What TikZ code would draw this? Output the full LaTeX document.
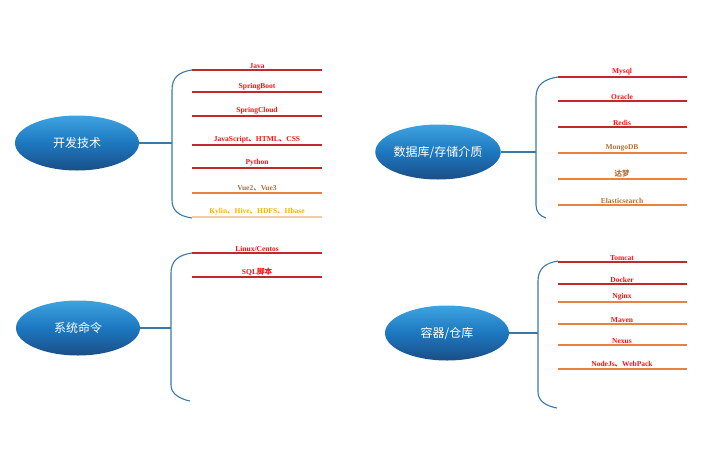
\documentclass[tikz,border=0pt]{standalone}
\usepackage{fontspec}
\setmainfont{Liberation Serif}
\newfontfamily\cjk{Noto Sans CJK SC}
\newcommand\dn{{\cjk 、}}
\usetikzlibrary{shapes.geometric}
\definecolor{lred}{HTML}{C0282C}
\definecolor{lorg}{HTML}{E8823E}
\definecolor{lpale}{HTML}{F5C9A5}
\definecolor{tred}{HTML}{FF1010}
\definecolor{tbrn}{HTML}{B0703A}
\definecolor{tyel}{HTML}{F0B800}
\definecolor{bblue}{HTML}{3A78A8}
\definecolor{etop}{HTML}{3FA3E0}
\definecolor{emid}{HTML}{1C78C0}
\definecolor{ebot}{HTML}{1B4E86}
\tikzset{
 topic/.style={ellipse,minimum width=124pt,minimum height=55pt,inner sep=0pt,
   top color=etop,bottom color=ebot,middle color=emid,
   text=white,font=\cjk\fontsize{12}{12}\selectfont},
 brace/.style={draw=bblue,line width=1.1pt},
 leaf/.style={line width=2pt},
 lbl/.style={font=\bfseries\fontsize{7.5}{8}\selectfont,anchor=south,inner sep=1.5pt}
}
\begin{document}
\begin{tikzpicture}[x=1pt,y=-1pt]
\useasboundingbox (0,0) rectangle (720,450);
\node[topic] (t1) at (77,143) {开发技术};
\node[topic] (t2) at (438,152) {数据库/存储介质};
\node[topic] (t3) at (78,328) {系统命令};
\node[topic] (t4) at (447,333) {容器/仓库};
% group 1
\coordinate (b1) at (172,143);
\draw[brace] (t1.east) -- (b1);
\draw[brace] (192,70) .. controls (178,72) and (172,78) .. (172,90) -- (172,200) .. controls (172,210) and (178,216) .. (192,218);
\foreach \y/\t/\c/\tc [count=\i] in {70/Java/lred/tred,92/SpringBoot/lred/tred,116/SpringCloud/lred/tred,145/{JavaScript\dn HTML\dn CSS}/lred/tred,168/Python/lred/tred,193/{Vue2\dn Vue3}/lorg/tbrn,217/{Kylin\dn Hive\dn HDFS\dn Hbase}/lpale/tyel}{
 \coordinate (a\i) at (192,\y); \coordinate (e\i) at (322,\y);
 \draw[leaf,draw=\c] (a\i) -- (e\i);
 \node[lbl,text=\tc] at (257,\y) {\t};
}
% group 2
\coordinate (b2) at (536,152);
\draw[brace] (t2.east) -- (b2);
\draw[brace] (558,77) .. controls (544,79) and (536,85) .. (536,97) -- (536,205) .. controls (536,212) and (540,216) .. (546,218);
\foreach \y/\t/\tc [count=\i] in {77/Mysql/tred,101/Oracle/tred,127/Redis/tred,153/MongoDB/tbrn,179/{\cjk 达梦}/tbrn,205/Elasticsearch/tbrn}{
 \coordinate (c\i) at (558,\y); \coordinate (d\i) at (687,\y);
 \ifnum\i<4 \draw[leaf,draw=lred] (c\i) -- (d\i); \else \draw[leaf,draw=lorg] (c\i) -- (d\i); \fi
 \node[lbl,text=\tc] at (622,\y) {\t};
}
% group 3
\coordinate (b3) at (171,328);
\draw[brace] (t3.east) -- (b3);
\draw[brace] (192,253) .. controls (178,255) and (171,261) .. (171,273) -- (171,385) .. controls (171,394) and (180,399) .. (190,401);
\foreach \y/\t [count=\i] in {253/{Linux/Centos},277/{SQL{\cjk 脚本}}}{
 \coordinate (f\i) at (192,\y); \coordinate (g\i) at (322,\y);
 \draw[leaf,draw=lred] (f\i) -- (g\i);
 \node[lbl,text=tred] at (257,\y) {\t};
}
% group 4
\coordinate (b4) at (538,333);
\draw[brace] (t4.east) -- (b4);
\draw[brace] (558,261) .. controls (545,263) and (538,269) .. (538,281) -- (538,392) .. controls (538,401) and (546,406) .. (557,408);
\foreach \y/\t [count=\i] in {262/Tomcat,284/Docker,302/Nginx,324/Maven,345/Nexus,369/{NodeJs\dn WebPack}}{
 \coordinate (h\i) at (558,\y); \coordinate (k\i) at (687,\y);
 \ifnum\i<3 \draw[leaf,draw=lred] (h\i) -- (k\i); \else \draw[leaf,draw=lorg] (h\i) -- (k\i); \fi
 \node[lbl,text=tred] at (622,\y) {\t};
}
\end{tikzpicture}
\end{document}
